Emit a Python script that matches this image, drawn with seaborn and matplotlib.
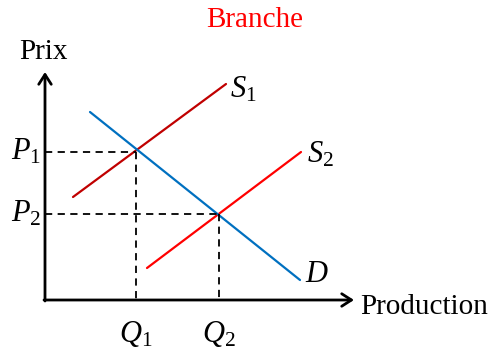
import matplotlib
matplotlib.use("Agg")
import matplotlib.pyplot as plt
import seaborn as sns
import pandas as pd

sns.set_style("white")
plt.rcParams['font.family'] = ['Liberation Serif', 'DejaVu Serif']
plt.rcParams['text.color'] = 'black'
plt.rcParams['mathtext.fontset'] = 'custom'
plt.rcParams['mathtext.rm'] = 'Liberation Serif'
plt.rcParams['mathtext.it'] = 'Liberation Serif:italic'

# Data (pixel-like diagram coordinates, y grows downward)
s1_x = [73, 226]
s1_y = [197, 84]
s2_x = [147, 301]
s2_y = [268, 152]
d_x = [90, 300]
d_y = [112, 280]
q_vals = [136, 219]
p_vals = [152, 214]
q_labels = ["$Q_1$", "$Q_2$"]
p_labels = ["$P_1$", "$P_2$"]
origin = (45, 300)

fig = plt.figure(figsize=(5.03, 3.54), dpi=100)
ax = fig.add_axes([0, 0, 1, 1])
ax.set_xlim(0, 503)
ax.set_ylim(354, 0)
ax.axis('off')

df = pd.concat([
    pd.DataFrame({'x': s1_x, 'y': s1_y, 'c': 'S1'}),
    pd.DataFrame({'x': s2_x, 'y': s2_y, 'c': 'S2'}),
    pd.DataFrame({'x': d_x, 'y': d_y, 'c': 'D'}),
])
sns.lineplot(data=df, x='x', y='y', hue='c', sort=False, estimator=None,
             palette={'S1': '#C00000', 'S2': '#FF0000', 'D': '#0070C0'},
             linewidth=1.6, legend=False, ax=ax)

# dashed guides
for q, p in zip(q_vals, p_vals):
    ax.plot([origin[0], q], [p, p], color='black', lw=1.3, ls=(0, (4, 3)))
    ax.plot([q, q], [p, origin[1]], color='black', lw=1.3, ls=(0, (4, 3)))

# axes arrows
ax.annotate('', xy=(354, origin[1]), xytext=(origin[0] - 1, origin[1]),
            arrowprops=dict(arrowstyle='->,head_length=0.7,head_width=0.45', lw=2, color='black',
                            shrinkA=0, shrinkB=0))
ax.annotate('', xy=(origin[0], 72), xytext=(origin[0], origin[1] + 1),
            arrowprops=dict(arrowstyle='->,head_length=0.7,head_width=0.45', lw=2, color='black',
                            shrinkA=0, shrinkB=0))

fs = 21
mfs = 22
ax.text(43, 52, 'Prix', fontsize=fs, ha='center', va='center')
ax.text(360, 307, 'Production', fontsize=fs, ha='left', va='center')
ax.text(255, 20, 'Branche', fontsize=fs, ha='center', va='center', color='#FF0000')

for q, lab in zip(q_vals, q_labels):
    ax.text(q, 334, lab, fontsize=mfs, ha='center', va='center')
for p, lab in zip(p_vals, p_labels):
    ax.text(26, p, lab, fontsize=mfs, ha='center', va='center')

ax.text(s1_x[1] + 4, s1_y[1] + 6, '$S_1$', fontsize=mfs, ha='left', va='center')
ax.text(s2_x[1] + 6, s2_y[1] + 3, '$S_2$', fontsize=mfs, ha='left', va='center')
ax.text(d_x[1] + 5, d_y[1] - 5, '$D$', fontsize=mfs, ha='left', va='center')

fig.savefig('out.png', dpi=100)
